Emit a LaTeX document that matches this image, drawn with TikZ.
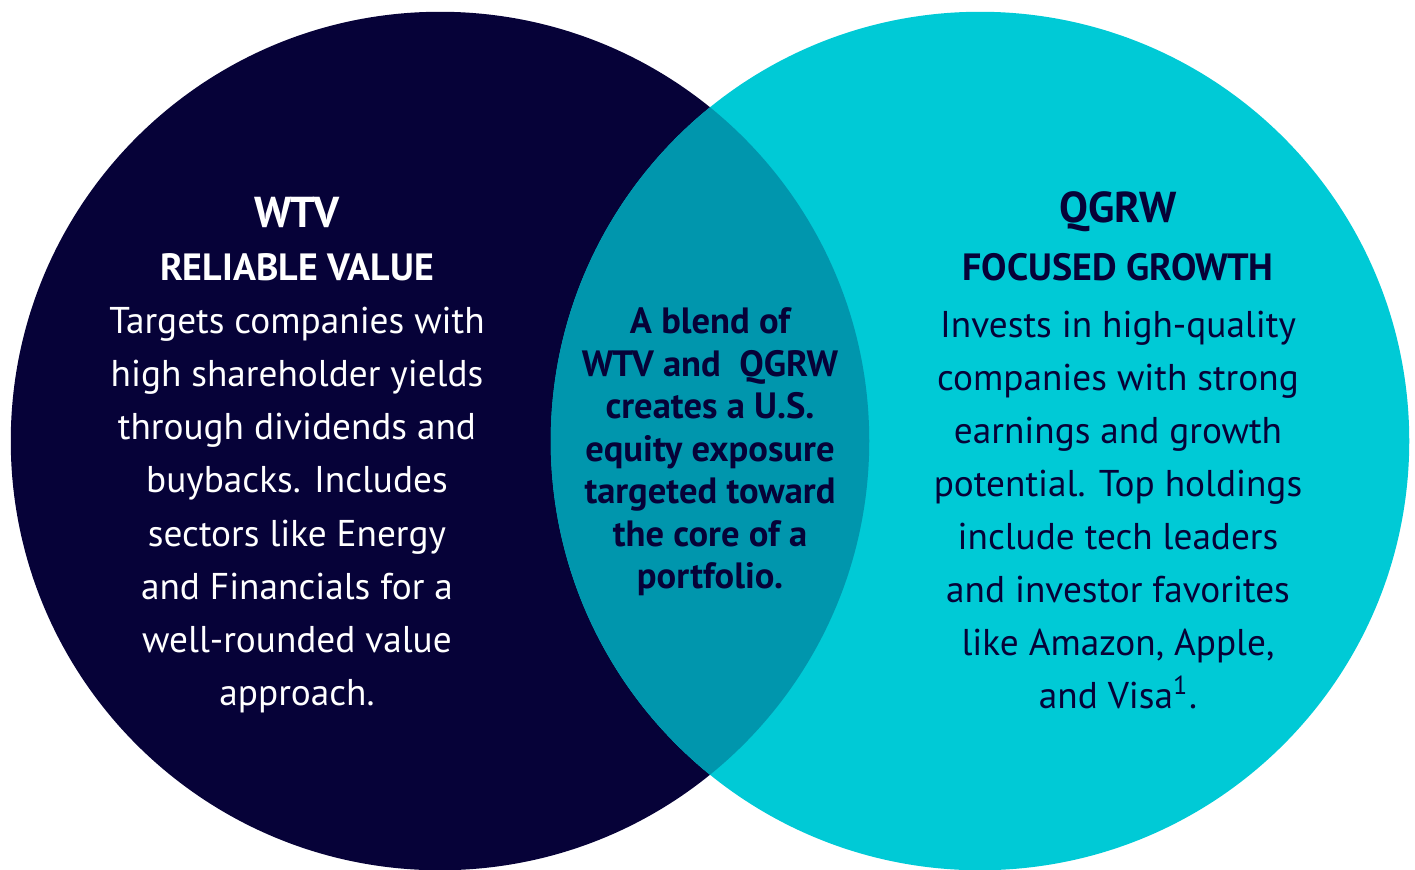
\documentclass[tikz,border=0pt]{standalone}
\usepackage{fontspec}
\setmainfont{PT Sans}
\definecolor{wtvnavy}{RGB}{6,2,56}
\definecolor{qgrwcyan}{RGB}{0,202,214}
\definecolor{blendteal}{RGB}{0,150,173}

\begin{document}
\begin{tikzpicture}[x=0.01cm,y=-0.01cm,
	fund/.style={font=\bfseries\fontsize{12.3}{15}\selectfont},
	theme/.style={font=\bfseries\fontsize{10.8}{14}\selectfont},
	body/.style={align=center,font=\fontsize{10.6}{15.1}\selectfont},
	blend/.style={align=center,text=wtvnavy,font=\bfseries\fontsize{10.4}{12.1}\selectfont}]
	\useasboundingbox (0,0) rectangle (1415,869);

	\fill[wtvnavy] (440,441) circle[radius=4.29cm];
	\fill[qgrwcyan] (980,441) circle[radius=4.29cm];
	\begin{scope}
		\clip (440,441) circle[radius=4.29cm];
		\fill[blendteal] (980,441) circle[radius=4.29cm];
	\end{scope}

	\node[fund, text=white] (wtv) at (297,212) {WTV};
	\node[theme, text=white] (wtvtheme) at (297,267) {RELIABLE VALUE};
	\node[body, text=white] (wtvtext) at (297,510) {Targets companies with\\high shareholder yields\\through dividends and\\buybacks. Includes\\sectors like Energy\\and Financials for a\\well-rounded value\\approach.};

	\node[fund, text=wtvnavy] (qgrw) at (1118,212) {QGRW};
	\node[theme, text=wtvnavy] (qgrwtheme) at (1118,267) {FOCUSED GROWTH};
	\node[body, text=wtvnavy] (qgrwtext) at (1118,510) {Invests in high-quality\\companies with strong\\earnings and growth\\potential. Top holdings\\include tech leaders\\and investor favorites\\like Amazon, Apple,\\and Visa\textsuperscript{1}.};

	\node[blend] (core) at (710,452) {A blend of\\WTV and\ \ QGRW\\creates a U.S.\\equity exposure\\targeted toward\\the core of a\\portfolio.};
\end{tikzpicture}
\end{document}
